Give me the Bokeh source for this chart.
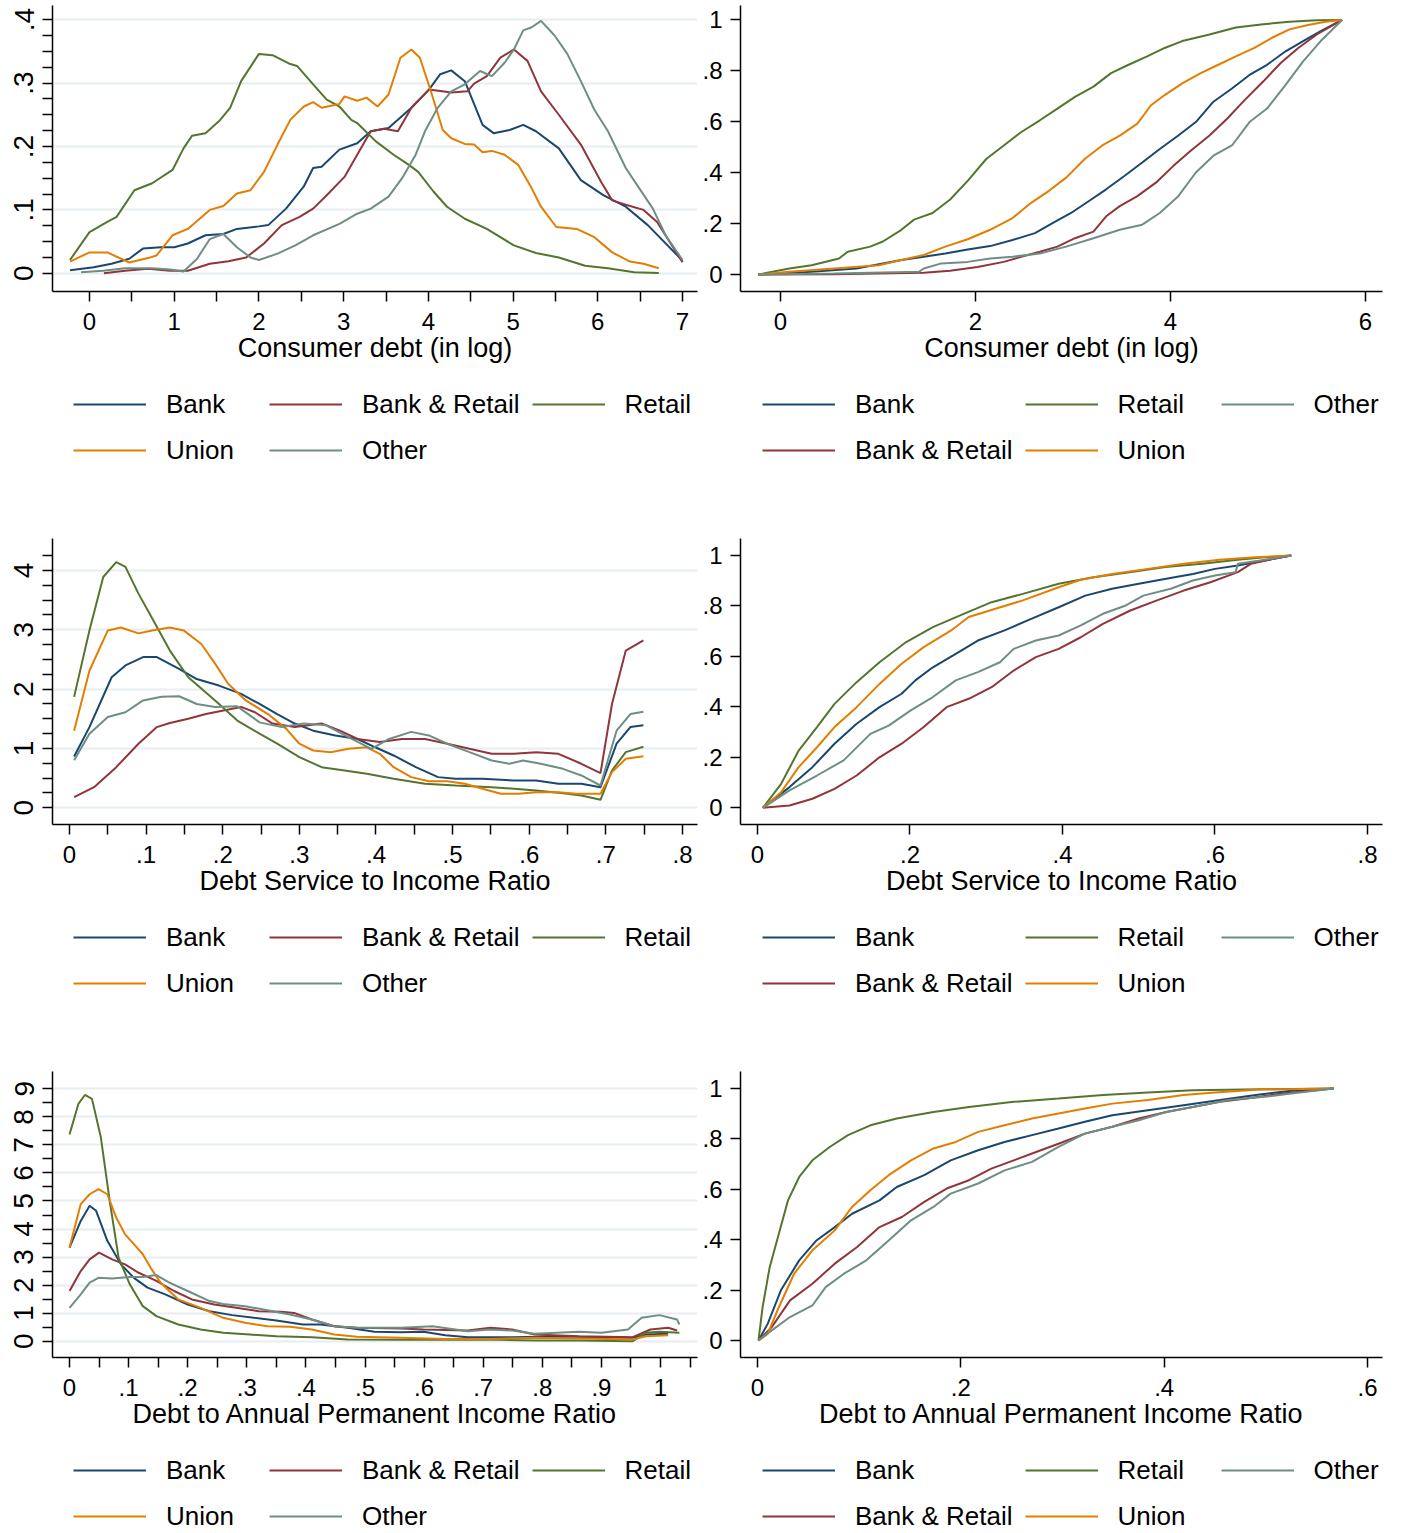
import numpy as np
from bokeh.plotting import figure
from bokeh.models import FixedTicker, Legend, LegendItem
from bokeh.layouts import gridplot
from bokeh.embed import file_html
from bokeh.resources import INLINE

FONT = "Liberation Sans"
SERIES = ["Bank", "Bank & Retail", "Retail", "Union", "Other"]
COLORS = ["#1a476f", "#90353b", "#55752f", "#e37e00", "#6e8e84"]

# ---------------- Consumer debt (in log): density ----------------
debt_pdf_bank = [(-0.23,0.005),(0.05,0.0095),(0.26,0.015),(0.47,0.023),(0.63,0.039),(0.84,0.041),(1.0,0.041),(1.16,0.047),(1.37,0.06),(1.58,0.062),(1.74,0.07),(2.0,0.074),(2.11,0.076),(2.32,0.102),(2.53,0.137),(2.64,0.166),(2.74,0.168),(2.95,0.195),(3.16,0.205),(3.32,0.224),(3.53,0.229),(3.8,0.261),(4.01,0.29),(4.14,0.314),(4.27,0.32),(4.43,0.303),(4.64,0.234),(4.77,0.221),(4.96,0.226),(5.12,0.234),(5.27,0.224),(5.54,0.197),(5.8,0.147),(6.07,0.123),(6.33,0.105),(6.59,0.076),(7.0,0.02)]
debt_pdf_bankretail = [(0.17,0.0),(0.42,0.004),(0.69,0.007),(0.95,0.004),(1.16,0.004),(1.42,0.015),(1.64,0.019),(1.85,0.025),(2.06,0.047),(2.27,0.076),(2.48,0.089),(2.64,0.102),(2.8,0.123),(3.01,0.152),(3.16,0.187),(3.32,0.224),(3.48,0.228),(3.64,0.224),(3.8,0.261),(4.01,0.29),(4.27,0.285),(4.46,0.287),(4.54,0.299),(4.69,0.311),(4.85,0.34),(5.01,0.353),(5.17,0.335),(5.33,0.287),(5.54,0.25),(5.8,0.203),(6.04,0.144),(6.17,0.115),(6.33,0.108),(6.54,0.1),(6.7,0.081),(7.0,0.0175)]
debt_pdf_retail = [(-0.23,0.021),(0.0,0.065),(0.21,0.081),(0.32,0.089),(0.53,0.131),(0.74,0.142),(0.98,0.163),(1.11,0.197),(1.21,0.217),(1.37,0.221),(1.53,0.24),(1.66,0.261),(1.79,0.303),(2.0,0.346),(2.16,0.344),(2.37,0.33),(2.45,0.327),(2.64,0.298),(2.8,0.274),(2.95,0.263),(3.09,0.242),(3.16,0.237),(3.38,0.208),(3.59,0.187),(3.77,0.171),(3.88,0.16),(4.06,0.129),(4.22,0.105),(4.43,0.086),(4.69,0.07),(5.01,0.044),(5.27,0.032),(5.54,0.025),(5.85,0.012),(6.12,0.008),(6.43,0.0016),(6.72,0.0005)]
debt_pdf_union = [(-0.23,0.0185),(0.0,0.033),(0.21,0.033),(0.47,0.017),(0.69,0.024),(0.79,0.028),(0.98,0.06),(1.16,0.07),(1.42,0.1),(1.58,0.106),(1.74,0.126),(1.9,0.131),(2.06,0.16),(2.22,0.203),(2.37,0.242),(2.53,0.263),(2.64,0.27),(2.74,0.261),(2.95,0.267),(3.01,0.279),(3.16,0.272),(3.27,0.277),(3.4,0.263),(3.53,0.282),(3.67,0.34),(3.8,0.353),(3.9,0.34),(4.03,0.287),(4.17,0.226),(4.27,0.213),(4.43,0.204),(4.54,0.203),(4.64,0.191),(4.75,0.193),(4.9,0.187),(5.06,0.171),(5.22,0.134),(5.33,0.105),(5.51,0.073),(5.75,0.07),(5.96,0.057),(6.17,0.033),(6.38,0.0185),(6.54,0.015),(6.72,0.008)]
debt_pdf_other = [(-0.1,0.0016),(0.16,0.004),(0.42,0.008),(0.74,0.008),(0.95,0.006),(1.11,0.003),(1.27,0.023),(1.42,0.054),(1.58,0.062),(1.74,0.041),(1.9,0.025),(2.0,0.021),(2.22,0.031),(2.43,0.044),(2.64,0.06),(2.95,0.078),(3.16,0.094),(3.32,0.102),(3.53,0.121),(3.69,0.15),(3.85,0.187),(3.96,0.224),(4.11,0.261),(4.27,0.287),(4.43,0.298),(4.61,0.319),(4.75,0.311),(4.9,0.332),(5.01,0.353),(5.12,0.383),(5.22,0.388),(5.33,0.398),(5.49,0.375),(5.64,0.346),(5.8,0.303),(5.96,0.258),(6.12,0.224),(6.33,0.166),(6.49,0.134),(6.65,0.102),(6.8,0.06),(7.0,0.021)]

# ---------------- Consumer debt (in log): CDF ----------------
debt_cdf_bank = [(-0.23,0),(0.32,0.011),(0.78,0.024),(1.24,0.057),(1.47,0.07),(1.69,0.083),(1.92,0.099),(2.15,0.112),(2.38,0.136),(2.61,0.163),(2.79,0.202),(2.98,0.242),(3.16,0.288),(3.34,0.335),(3.53,0.388),(3.71,0.44),(3.89,0.493),(4.08,0.546),(4.26,0.599),(4.44,0.679),(4.63,0.731),(4.81,0.784),(4.99,0.824),(5.18,0.877),(5.36,0.917),(5.54,0.956),(5.76,1.0)]
debt_cdf_bankretail = [(-0.23,0),(0.55,0.001),(1.01,0.004),(1.47,0.007),(1.74,0.015),(2.02,0.03),(2.29,0.05),(2.47,0.07),(2.66,0.09),(2.84,0.11),(3.02,0.143),(3.21,0.169),(3.34,0.229),(3.48,0.269),(3.66,0.308),(3.85,0.361),(4.03,0.427),(4.21,0.487),(4.4,0.546),(4.58,0.612),(4.76,0.685),(4.95,0.758),(5.13,0.831),(5.31,0.89),(5.5,0.943),(5.76,1.0)]
debt_cdf_retail = [(-0.23,0),(0.09,0.024),(0.32,0.037),(0.6,0.063),(0.69,0.09),(0.92,0.11),(1.05,0.13),(1.24,0.176),(1.37,0.216),(1.56,0.242),(1.74,0.295),(1.92,0.368),(2.11,0.454),(2.29,0.507),(2.47,0.56),(2.66,0.606),(2.84,0.652),(3.02,0.698),(3.21,0.738),(3.39,0.791),(3.57,0.824),(3.76,0.857),(3.94,0.89),(4.12,0.917),(4.4,0.943),(4.67,0.97),(4.95,0.983),(5.22,0.993),(5.5,0.999),(5.76,1.0)]
debt_cdf_union = [(-0.23,0),(0.09,0.011),(0.55,0.024),(1.01,0.037),(1.24,0.057),(1.47,0.077),(1.69,0.11),(1.92,0.139),(2.15,0.176),(2.38,0.222),(2.57,0.282),(2.75,0.328),(2.93,0.381),(3.12,0.454),(3.3,0.507),(3.48,0.546),(3.66,0.593),(3.8,0.665),(3.94,0.705),(4.12,0.751),(4.31,0.791),(4.49,0.824),(4.67,0.857),(4.86,0.89),(5.04,0.93),(5.22,0.963),(5.41,0.98),(5.59,0.993),(5.76,1.0)]
debt_cdf_other = [(-0.23,0),(0.55,0.004),(1.42,0.011),(1.47,0.024),(1.65,0.044),(1.92,0.05),(2.15,0.063),(2.38,0.07),(2.66,0.083),(2.93,0.11),(3.21,0.143),(3.48,0.176),(3.71,0.196),(3.89,0.242),(4.08,0.308),(4.26,0.401),(4.44,0.467),(4.63,0.507),(4.81,0.599),(4.99,0.652),(5.18,0.745),(5.36,0.837),(5.54,0.917),(5.76,1.0)]

# ---------------- Debt service to income ratio: density ----------------
dsi_pdf_bank = [(0.006,0.865),(0.026,1.36),(0.055,2.2),(0.073,2.4),(0.096,2.54),(0.114,2.54),(0.143,2.34),(0.166,2.17),(0.195,2.06),(0.224,1.92),(0.248,1.75),(0.271,1.58),(0.294,1.42),(0.318,1.3),(0.347,1.22),(0.376,1.16),(0.399,1.02),(0.423,0.882),(0.452,0.685),(0.481,0.517),(0.504,0.489),(0.539,0.489),(0.58,0.461),(0.609,0.461),(0.638,0.404),(0.668,0.404),(0.693,0.348),(0.714,1.08),(0.732,1.36),(0.749,1.39)]
dsi_pdf_bankretail = [(0.006,0.18),(0.032,0.348),(0.061,0.685),(0.09,1.08),(0.114,1.36),(0.131,1.43),(0.155,1.5),(0.178,1.58),(0.201,1.64),(0.224,1.7),(0.242,1.61),(0.265,1.42),(0.294,1.36),(0.329,1.42),(0.353,1.3),(0.376,1.16),(0.405,1.11),(0.434,1.16),(0.464,1.16),(0.493,1.08),(0.522,0.994),(0.551,0.91),(0.58,0.91),(0.609,0.938),(0.638,0.91),(0.668,0.742),(0.693,0.584),(0.708,1.75),(0.726,2.65),(0.749,2.82)]
dsi_pdf_retail = [(0.006,1.87),(0.026,2.99),(0.044,3.89),(0.061,4.14),(0.073,4.06),(0.09,3.61),(0.108,3.19),(0.131,2.65),(0.155,2.2),(0.19,1.81),(0.219,1.47),(0.248,1.25),(0.271,1.08),(0.3,0.854),(0.329,0.685),(0.359,0.629),(0.388,0.573),(0.423,0.489),(0.464,0.404),(0.504,0.376),(0.551,0.348),(0.58,0.32),(0.609,0.292),(0.644,0.247),(0.668,0.208),(0.693,0.135),(0.708,0.629),(0.726,0.938),(0.749,1.03)]
dsi_pdf_union = [(0.006,1.3),(0.026,2.31),(0.05,2.99),(0.067,3.04),(0.09,2.94),(0.108,2.99),(0.131,3.04),(0.149,2.99),(0.172,2.76),(0.19,2.43),(0.207,2.09),(0.23,1.81),(0.259,1.58),(0.283,1.33),(0.3,1.08),(0.318,0.966),(0.341,0.938),(0.364,0.994),(0.388,1.02),(0.405,0.91),(0.423,0.685),(0.446,0.517),(0.469,0.449),(0.493,0.449),(0.516,0.404),(0.539,0.32),(0.563,0.236),(0.586,0.236),(0.609,0.264),(0.638,0.264),(0.662,0.236),(0.693,0.236),(0.708,0.601),(0.726,0.826),(0.749,0.87)]
dsi_pdf_other = [(0.006,0.8),(0.026,1.25),(0.05,1.53),(0.073,1.61),(0.096,1.81),(0.12,1.87),(0.143,1.88),(0.166,1.75),(0.19,1.7),(0.219,1.71),(0.248,1.44),(0.277,1.36),(0.306,1.42),(0.335,1.39),(0.364,1.19),(0.394,0.994),(0.417,1.16),(0.446,1.28),(0.469,1.22),(0.493,1.08),(0.522,0.938),(0.551,0.798),(0.574,0.742),(0.592,0.798),(0.615,0.742),(0.644,0.657),(0.668,0.545),(0.693,0.376),(0.714,1.3),(0.732,1.58),(0.749,1.62)]

# ---------------- Debt service to income ratio: CDF ----------------
dsi_cdf_bank = [(0.007,0),(0.042,0.082),(0.072,0.161),(0.101,0.254),(0.13,0.333),(0.16,0.399),(0.189,0.452),(0.207,0.505),(0.23,0.557),(0.26,0.61),(0.289,0.663),(0.324,0.703),(0.359,0.749),(0.395,0.795),(0.43,0.841),(0.465,0.868),(0.5,0.888),(0.536,0.908),(0.571,0.927),(0.6,0.947),(0.63,0.96),(0.665,0.98),(0.70,1.0)]
dsi_cdf_bankretail = [(0.007,0),(0.042,0.009),(0.072,0.036),(0.101,0.075),(0.13,0.128),(0.16,0.2),(0.189,0.254),(0.218,0.32),(0.248,0.399),(0.277,0.432),(0.307,0.478),(0.336,0.544),(0.365,0.597),(0.395,0.63),(0.424,0.676),(0.453,0.729),(0.489,0.782),(0.524,0.822),(0.559,0.861),(0.594,0.894),(0.63,0.934),(0.647,0.967),(0.677,0.987),(0.70,1.0)]
dsi_cdf_retail = [(0.007,0),(0.031,0.095),(0.054,0.227),(0.078,0.32),(0.101,0.412),(0.13,0.498),(0.16,0.577),(0.195,0.657),(0.23,0.716),(0.265,0.762),(0.307,0.815),(0.348,0.848),(0.395,0.888),(0.441,0.914),(0.488,0.934),(0.535,0.954),(0.583,0.967),(0.63,0.983),(0.665,0.993),(0.70,1.0)]
dsi_cdf_union = [(0.007,0),(0.031,0.062),(0.054,0.161),(0.078,0.24),(0.101,0.32),(0.13,0.399),(0.16,0.491),(0.189,0.571),(0.218,0.637),(0.254,0.703),(0.277,0.756),(0.312,0.789),(0.348,0.822),(0.395,0.874),(0.424,0.904),(0.465,0.927),(0.512,0.947),(0.559,0.967),(0.606,0.983),(0.653,0.993),(0.70,1.0)]
dsi_cdf_other = [(0.007,0),(0.042,0.069),(0.078,0.128),(0.113,0.188),(0.148,0.293),(0.172,0.326),(0.201,0.386),(0.23,0.439),(0.26,0.505),(0.289,0.538),(0.318,0.577),(0.336,0.63),(0.365,0.663),(0.395,0.683),(0.424,0.723),(0.453,0.769),(0.483,0.802),(0.506,0.841),(0.542,0.868),(0.571,0.901),(0.6,0.921),(0.627,0.934),(0.63,0.967),(0.659,0.98),(0.70,1.0)]

# ---------------- Debt to annual permanent income ratio: density ----------------
dapi_pdf_bank = [(0.0,3.34),(0.019,4.29),(0.034,4.83),(0.045,4.65),(0.064,3.58),(0.087,2.74),(0.109,2.26),(0.132,1.91),(0.162,1.67),(0.2,1.31),(0.237,1.07),(0.275,0.93),(0.312,0.834),(0.35,0.739),(0.395,0.596),(0.425,0.596),(0.471,0.477),(0.516,0.334),(0.561,0.322),(0.599,0.334),(0.636,0.215),(0.674,0.143),(0.749,0.143),(0.825,0.167),(0.9,0.143),(0.953,0.119),(0.975,0.238),(1.013,0.262)]
dapi_pdf_bankretail = [(0.0,1.79),(0.019,2.5),(0.034,2.92),(0.05,3.16),(0.072,2.92),(0.094,2.74),(0.117,2.44),(0.147,2.15),(0.177,1.79),(0.207,1.49),(0.245,1.31),(0.282,1.19),(0.32,1.07),(0.358,1.05),(0.38,1.01),(0.41,0.775),(0.448,0.536),(0.486,0.477),(0.561,0.453),(0.599,0.417),(0.674,0.381),(0.712,0.477),(0.749,0.417),(0.787,0.238),(0.862,0.179),(0.953,0.143),(0.983,0.417),(1.013,0.477),(1.028,0.381)]
dapi_pdf_retail = [(0.0,7.37),(0.015,8.46),(0.026,8.78),(0.038,8.64),(0.053,7.27),(0.068,5.0),(0.083,2.98),(0.102,2.03),(0.124,1.25),(0.147,0.894),(0.184,0.596),(0.222,0.417),(0.26,0.298),(0.305,0.238),(0.35,0.179),(0.41,0.143),(0.471,0.06),(0.561,0.048),(0.636,0.048),(0.712,0.06),(0.787,0.024),(0.862,0.024),(0.953,0.0),(0.975,0.298),(0.998,0.334),(1.032,0.298)]
dapi_pdf_union = [(0.0,3.34),(0.019,4.89),(0.034,5.24),(0.049,5.42),(0.064,5.24),(0.079,4.41),(0.094,3.81),(0.109,3.46),(0.124,3.1),(0.139,2.56),(0.154,2.09),(0.184,1.49),(0.222,1.19),(0.26,0.834),(0.297,0.656),(0.335,0.536),(0.373,0.513),(0.41,0.417),(0.448,0.238),(0.486,0.155),(0.561,0.119),(0.636,0.083),(0.712,0.083),(0.787,0.119),(0.862,0.095),(0.953,0.06),(0.975,0.179),(1.013,0.215)]
dapi_pdf_other = [(0.0,1.19),(0.019,1.67),(0.034,2.09),(0.049,2.26),(0.072,2.24),(0.102,2.29),(0.124,2.29),(0.147,2.36),(0.169,2.09),(0.2,1.79),(0.237,1.43),(0.26,1.33),(0.297,1.25),(0.335,1.1),(0.373,0.954),(0.41,0.775),(0.448,0.536),(0.486,0.477),(0.561,0.477),(0.614,0.536),(0.674,0.358),(0.712,0.417),(0.749,0.381),(0.787,0.262),(0.862,0.334),(0.9,0.298),(0.945,0.417),(0.968,0.834),(0.998,0.93),(1.028,0.775),(1.032,0.596)]

# ---------------- Debt to annual permanent income ratio: CDF ----------------
dapi_cdf_bank = [(0.001,0),(0.01,0.066),(0.023,0.199),(0.041,0.318),(0.058,0.397),(0.076,0.45),(0.093,0.503),(0.12,0.556),(0.137,0.609),(0.164,0.656),(0.19,0.715),(0.217,0.755),(0.243,0.788),(0.27,0.815),(0.296,0.841),(0.322,0.868),(0.349,0.894),(0.384,0.914),(0.419,0.934),(0.455,0.954),(0.49,0.974),(0.525,0.991),(0.567,1.0)]
dapi_cdf_bankretail = [(0.001,0),(0.014,0.053),(0.032,0.159),(0.054,0.225),(0.076,0.305),(0.098,0.371),(0.12,0.45),(0.142,0.49),(0.164,0.55),(0.186,0.603),(0.208,0.636),(0.23,0.682),(0.252,0.715),(0.274,0.748),(0.296,0.781),(0.322,0.821),(0.349,0.848),(0.375,0.881),(0.402,0.907),(0.428,0.927),(0.455,0.947),(0.481,0.96),(0.516,0.98),(0.567,1.0)]
dapi_cdf_retail = [(0.001,0),(0.005,0.132),(0.012,0.291),(0.021,0.424),(0.03,0.556),(0.041,0.649),(0.054,0.715),(0.071,0.768),(0.089,0.815),(0.111,0.854),(0.137,0.881),(0.173,0.907),(0.208,0.927),(0.252,0.947),(0.296,0.96),(0.34,0.974),(0.384,0.984),(0.428,0.993),(0.495,0.997),(0.567,1.0)]
dapi_cdf_union = [(0.001,0),(0.01,0.026),(0.021,0.132),(0.036,0.265),(0.054,0.358),(0.076,0.437),(0.093,0.53),(0.111,0.596),(0.129,0.656),(0.151,0.715),(0.173,0.762),(0.195,0.788),(0.217,0.828),(0.243,0.854),(0.27,0.881),(0.296,0.901),(0.322,0.921),(0.349,0.94),(0.384,0.954),(0.419,0.974),(0.45,0.984),(0.494,0.996),(0.567,1.0)]
dapi_cdf_other = [(0.001,0),(0.014,0.04),(0.032,0.093),(0.054,0.139),(0.067,0.212),(0.085,0.265),(0.107,0.318),(0.129,0.397),(0.151,0.477),(0.173,0.53),(0.19,0.583),(0.217,0.623),(0.243,0.675),(0.27,0.709),(0.296,0.768),(0.322,0.821),(0.349,0.848),(0.375,0.874),(0.402,0.907),(0.428,0.927),(0.463,0.954),(0.499,0.967),(0.525,0.98),(0.567,1.0)]

# ---------------- Axis ticks / titles ----------------
debt_title = "Consumer debt (in log)"
dsi_title = "Debt Service to Income Ratio"
dapi_title = "Debt to Annual Permanent Income Ratio"

debt_pdf_xticks = [i * 0.5 for i in range(15)]
debt_pdf_xlabels = [0, 1, 2, 3, 4, 5, 6, 7]
debt_pdf_yticks = [round(i * 0.025, 3) for i in range(17)]
debt_pdf_ylabels = [0, 0.1, 0.2, 0.3, 0.4]
debt_cdf_xticks = [0, 2, 4, 6]
cdf_yticks = [0, 0.2, 0.4, 0.6, 0.8, 1]

dsi_pdf_xticks = [round(i * 0.05, 2) for i in range(17)]
dsi_pdf_xlabels = [0, 0.1, 0.2, 0.3, 0.4, 0.5, 0.6, 0.7, 0.8]
dsi_pdf_yticks = [i * 0.25 for i in range(18)]
dsi_pdf_ylabels = [0, 1, 2, 3, 4]
dsi_cdf_xticks = [0, 0.2, 0.4, 0.6, 0.8]

dapi_pdf_xticks = [round(i * 0.05, 2) for i in range(22)]
dapi_pdf_xlabels = [0, 0.1, 0.2, 0.3, 0.4, 0.5, 0.6, 0.7, 0.8, 0.9, 1]
dapi_pdf_yticks = [i * 0.5 for i in range(19)]
dapi_pdf_ylabels = [0, 1, 2, 3, 4, 5, 6, 7, 8, 9]
dapi_cdf_xticks = [0, 0.2, 0.4, 0.6]


def fmt(v):
    s = "%g" % v
    if s.startswith("0."):
        s = s[1:]
    return s


def overrides(ticks, labels):
    lab = set(round(float(l), 3) for l in labels)
    return {t: (fmt(t) if round(float(t), 3) in lab else "") for t in ticks}


def panel(kind, width, height, borders, xr, yr, xticks, xlabels, yticks, ylabels, title, data):
    bl, br, bt, bb = borders
    p = figure(width=width, height=height, x_range=xr, y_range=yr,
               output_backend="svg", toolbar_location=None,
               min_border_left=bl, min_border_right=br,
               min_border_top=bt, min_border_bottom=bb,
               background_fill_color="white", border_fill_color="white")
    p.outline_line_color = None
    for pts, color in zip(data, COLORS):
        xs = [a for a, b in pts]
        ys = [b for a, b in pts]
        p.line(xs, ys, line_color=color, line_width=2)

    for ax in (p.xaxis[0], p.yaxis[0]):
        ax.axis_line_color = "black"
        ax.axis_line_width = 1.5
        ax.major_tick_line_color = "black"
        ax.major_tick_line_width = 1.5
        ax.major_tick_out = 10
        ax.major_tick_in = 0
        ax.minor_tick_line_color = None
        ax.major_label_text_font = FONT
        ax.major_label_text_color = "black"

    xa = p.xaxis[0]
    xa.ticker = FixedTicker(ticks=xticks)
    xa.major_label_overrides = overrides(xticks, xlabels)
    xa.major_label_text_font_size = "24px"
    xa.major_label_standoff = 11
    xa.axis_label = title
    xa.axis_label_text_font = FONT
    xa.axis_label_text_font_size = "27px"
    xa.axis_label_text_font_style = "normal"
    xa.axis_label_text_color = "black"
    xa.axis_label_standoff = 0

    ya = p.yaxis[0]
    ya.ticker = FixedTicker(ticks=yticks)
    ya.major_label_overrides = overrides(yticks, ylabels)
    p.xgrid.visible = False
    if kind == "pdf":
        ya.major_label_orientation = "vertical"
        ya.major_label_text_font_size = "28px"
        ya.major_label_standoff = 9
        p.ygrid.ticker = FixedTicker(ticks=ylabels)
        p.ygrid.grid_line_color = "#e6eef1"
        p.ygrid.grid_line_width = 2
    else:
        ya.major_label_text_font_size = "24px"
        ya.major_label_standoff = 8
        p.ygrid.visible = False
    return p


def legend_box(kind, width, height, x_off, y_off):
    # a strip under each panel that only carries that panel's legend
    q = figure(width=width, height=height, x_range=(0, 1), y_range=(0, 1),
               output_backend="svg", toolbar_location=None,
               x_axis_location=None, y_axis_location=None,
               min_border_left=0, min_border_right=0, min_border_top=0, min_border_bottom=0,
               background_fill_color="white", border_fill_color="white")
    q.outline_line_color = None
    q.grid.visible = False
    nan = np.array([np.nan])
    rs = [q.line(nan, nan, line_color=c, line_width=2) for c in COLORS]
    items = [LegendItem(label=n, renderers=[r]) for n, r in zip(SERIES, rs)]
    if kind == "pdf":
        leg = Legend(items=items, location=(x_off, y_off), orientation="horizontal", ncols=3)
    else:
        leg = Legend(items=items, location=(x_off, y_off), orientation="vertical", nrows=2)
    leg.glyph_width = 73
    leg.glyph_height = 34
    leg.label_height = 34
    leg.label_width = 91
    leg.label_standoff = 20
    leg.spacing = 12
    leg.padding = 0
    leg.margin = 0
    leg.border_line_color = None
    leg.background_fill_alpha = 0
    leg.label_text_font = FONT
    leg.label_text_font_size = "26px"
    leg.label_text_color = "black"
    q.add_layout(leg)
    return q


WL, WR = 698, 704
PH = 386          # plot part of each row
LH = [147, 147, 81]  # legend part of each row
BL = (52, 1)
BR = (42, 20)

p1 = panel("pdf", WL, PH, (BL[0], BL[1], 5, 95), (-0.4368, 7.177), (-0.02869, 0.42231),
           debt_pdf_xticks, debt_pdf_xlabels, debt_pdf_yticks, debt_pdf_ylabels, debt_title,
           [debt_pdf_bank, debt_pdf_bankretail, debt_pdf_retail, debt_pdf_union, debt_pdf_other])
p2 = panel("cdf", WR, PH, (BR[0], BR[1], 5, 95), (-0.410, 6.174), (-0.0663, 1.0567),
           debt_cdf_xticks, debt_cdf_xticks, cdf_yticks, cdf_yticks, debt_title,
           [debt_cdf_bank, debt_cdf_bankretail, debt_cdf_retail, debt_cdf_union, debt_cdf_other])
p3 = panel("pdf", WL, PH, (BL[0], BL[1], 5, 95), (-0.0222, 0.8196), (-0.2815, 4.539),
           dsi_pdf_xticks, dsi_pdf_xlabels, dsi_pdf_yticks, dsi_pdf_ylabels, dsi_title,
           [dsi_pdf_bank, dsi_pdf_bankretail, dsi_pdf_retail, dsi_pdf_union, dsi_pdf_other])
p4 = panel("cdf", WR, PH, (BR[0], BR[1], 5, 95), (-0.0223, 0.8197), (-0.0662, 1.0674),
           dsi_cdf_xticks, dsi_cdf_xticks, cdf_yticks, cdf_yticks, dsi_title,
           [dsi_cdf_bank, dsi_cdf_bankretail, dsi_cdf_retail, dsi_cdf_union, dsi_cdf_other])
p5 = panel("pdf", WL, PH, (BL[0], BL[1], 5, 95), (-0.0288, 1.0626), (-0.581, 9.617),
           dapi_pdf_xticks, dapi_pdf_xlabels, dapi_pdf_yticks, dapi_pdf_ylabels, dapi_title,
           [dapi_pdf_bank, dapi_pdf_bankretail, dapi_pdf_retail, dapi_pdf_union, dapi_pdf_other])
p6 = panel("cdf", WR, PH, (BR[0], BR[1], 5, 95), (-0.01672, 0.6147), (-0.0675, 1.0675),
           dapi_cdf_xticks, dapi_cdf_xticks, cdf_yticks, cdf_yticks, dapi_title,
           [dapi_cdf_bank, dapi_cdf_bankretail, dapi_cdf_retail, dapi_cdf_union, dapi_cdf_other])

# legend strips (their frames line up with the panels' frames in the grid)
l1 = legend_box("pdf", WL, LH[0], 21, LH[0] - 1 - 80)
l2 = legend_box("cdf", WR, LH[0], 22, LH[0] - 1 - 80)
l3 = legend_box("pdf", WL, LH[1], 21, LH[1] - 1 - 80)
l4 = legend_box("cdf", WR, LH[1], 22, LH[1] - 1 - 80)
l5 = legend_box("pdf", WL, LH[2], 21, LH[2] - 1 - 80)
l6 = legend_box("cdf", WR, LH[2], 22, LH[2] - 1 - 80)

grid = gridplot([[p1, p2], [l1, l2], [p3, p4], [l3, l4], [p5, p6], [l5, l6]],
                toolbar_location=None)

open("out.html", "w").write(file_html(grid, INLINE))
